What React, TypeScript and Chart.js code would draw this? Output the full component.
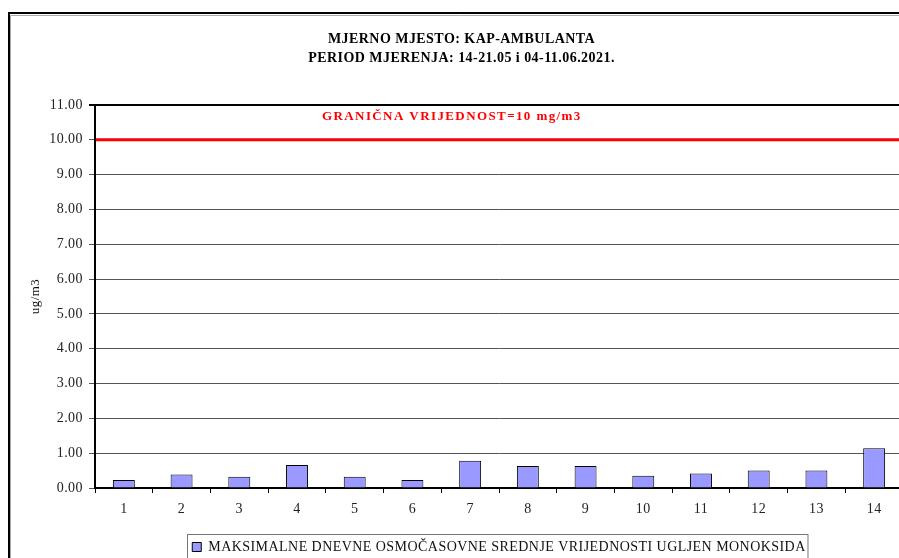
import React, { useEffect, useRef } from "react";
import { Chart, registerables } from "chart.js";

Chart.register(...registerables);

const categories = ["1", "2", "3", "4", "5", "6", "7", "8", "9", "10", "11", "12", "13", "14"];
const maxValues = [0.23, 0.39, 0.32, 0.66, 0.32, 0.23, 0.78, 0.63, 0.63, 0.35, 0.42, 0.5, 0.5, 1.14];
const limitValue = 10;
const limitLabel = "GRANIČNA VRIJEDNOST=10 mg/m3";
const titleLines = ["MJERNO MJESTO: KAP-AMBULANTA", "PERIOD MJERENJA: 14-21.05 i 04-11.06.2021."];
const seriesLabel = "MAKSIMALNE DNEVNE OSMOČASOVNE SREDNJE VRIJEDNOSTI UGLJEN MONOKSIDA";
const yAxisTitle = "ug/m3";

const SERIF = '"Liberation Serif", "Times New Roman", serif';

function setSpacing(chart: any, v: string) {
  const ctx = chart.ctx as any;
  if (ctx && "letterSpacing" in ctx) ctx.letterSpacing = v;
}

const decorPlugin = {
  id: "decor",
  beforeLayout(chart: any) {
    setSpacing(chart, "0.45px");
  },
  afterLayout(chart: any) {
    const lg = chart.legend;
    if (lg && chart.chartArea) {
      lg.left = chart.chartArea.left;
      lg.right = chart.chartArea.right;
      lg.width = lg.right - lg.left;
    }
  },
  beforeDraw(chart: any) {
    setSpacing(chart, "0.45px");
    const ctx = chart.ctx;
    ctx.save();
    ctx.strokeStyle = "#000";
    ctx.lineWidth = 2;
    ctx.strokeRect(9, 13, chart.width, chart.height);
    ctx.strokeStyle = "#aaa";
    ctx.lineWidth = 1;
    ctx.beginPath();
    ctx.moveTo(10.5, 15.5);
    ctx.lineTo(chart.width, 15.5);
    ctx.moveTo(10.5, 15.5);
    ctx.lineTo(10.5, chart.height);
    ctx.stroke();
    ctx.restore();
  },
  afterDatasetsDraw(chart: any) {
    const ctx = chart.ctx as any;
    const y = chart.scales.y;
    const area = chart.chartArea;
    const py = y.getPixelForValue(limitValue);
    ctx.save();
    ctx.strokeStyle = "#ff0000";
    ctx.lineWidth = 3;
    ctx.beginPath();
    ctx.moveTo(area.left + 1, py);
    ctx.lineTo(area.right, py);
    ctx.stroke();
    ctx.fillStyle = "#ff0000";
    ctx.font = "bold 13px " + SERIF;
    if ("letterSpacing" in ctx) ctx.letterSpacing = "1.4px";
    ctx.textAlign = "left";
    ctx.textBaseline = "middle";
    ctx.fillText(limitLabel, area.left + 227, y.getPixelForValue(10.68));
    ctx.restore();
  },
  afterDraw(chart: any) {
    const lg = chart.legend;
    if (!lg || !lg.legendHitBoxes || !lg.legendHitBoxes.length) return;
    const hb = lg.legendHitBoxes[0];
    const ctx = chart.ctx;
    ctx.save();
    ctx.strokeStyle = "#777";
    ctx.lineWidth = 1;
    ctx.strokeRect(Math.round(hb.left) - 4.5, Math.round(hb.top) - 5.5, hb.width + 7, 60);
    ctx.restore();
  },
};

export default function App() {
  const canvasRef = useRef<HTMLCanvasElement | null>(null);

  useEffect(() => {
    if (!canvasRef.current) return;
    const chart = new Chart(canvasRef.current, {
      type: "bar",
      data: {
        labels: categories,
        datasets: [
          {
            label: seriesLabel,
            data: maxValues,
            backgroundColor: "#9999ff",
            borderColor: "#000",
            borderWidth: 1,
            categoryPercentage: 1,
            barPercentage: 0.38,
          },
        ],
      },
      options: {
        animation: false,
        responsive: false,
        maintainAspectRatio: false,
        layout: { padding: { left: 20, right: 7, top: 0, bottom: 16 } },
        plugins: {
          title: {
            display: true,
            text: titleLines,
            color: "#000",
            font: { family: SERIF, size: 14, weight: "bold", lineHeight: "19px" },
            padding: { top: 29.5, bottom: 37.5 },
          },
          legend: {
            display: true,
            position: "bottom",
            labels: {
              color: "#111",
              font: { family: SERIF, size: 14 },
              boxWidth: 9,
              boxHeight: 9,
              padding: 10,
            },
          },
          tooltip: { enabled: false },
        },
        scales: {
          x: {
            offset: true,
            grid: {
              display: true,
              offset: true,
              drawOnChartArea: false,
              drawTicks: true,
              tickLength: 5,
              color: "#000",
            },
            border: { display: true, color: "#000", width: 2 },
            ticks: { color: "#222", font: { family: SERIF, size: 14 }, padding: 8, maxRotation: 0 },
            afterFit(scale: any) {
              scale.height = 42;
            },
          },
          y: {
            min: 0,
            max: 11,
            ticks: {
              stepSize: 1,
              color: "#222",
              font: { family: SERIF, size: 14 },
              padding: 6,
              callback: (v: any) => Number(v).toFixed(2),
            },
            grid: {
              tickLength: 6,
              color: (c: any) => (c.tick && c.tick.value === 11 ? "#000" : "#555"),
              lineWidth: (c: any) => (c.tick && c.tick.value === 11 ? 2 : 1),
            },
            border: { display: true, color: "#000", width: 2 },
            title: {
              display: true,
              text: yAxisTitle,
              color: "#111",
              font: { family: SERIF, size: 13 },
              padding: { top: 8, bottom: 0 },
            },
            afterFit(scale: any) {
              scale.width = 75;
            },
          },
        },
      },
      plugins: [decorPlugin],
    });
    return () => chart.destroy();
  }, []);

  return (
    <div
      style={{
        position: "fixed",
        left: 0,
        top: 0,
        width: 899,
        height: 558,
        overflow: "hidden",
        background: "#fff",
      }}
    >
      <canvas
        ref={canvasRef}
        width={910}
        height={580}
        style={{ position: "absolute", left: 0, top: 0, width: 910, height: 580 }}
      />
    </div>
  );
}
